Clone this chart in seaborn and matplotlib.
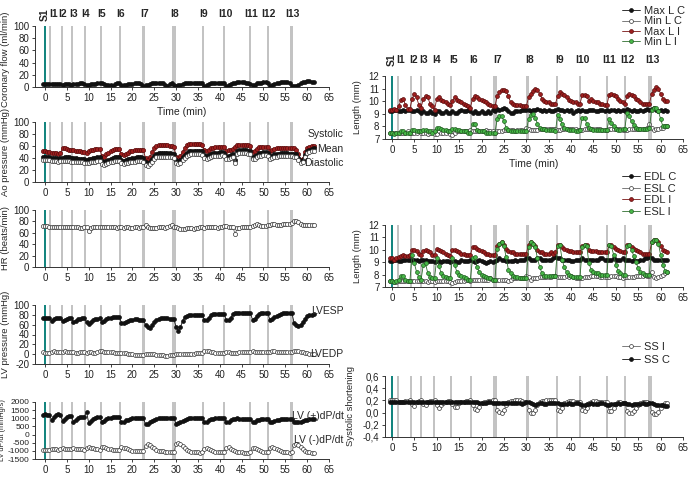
import numpy as np
import matplotlib
matplotlib.use("Agg")
import matplotlib.pyplot as plt
import seaborn as sns
from matplotlib.ticker import FuncFormatter

sns.set_theme(style="ticks")
plt.rcParams['font.family'] = ['Liberation Sans', 'DejaVu Sans']
plt.rcParams['axes.unicode_minus'] = False

# ---------------- data ----------------
time_min = np.arange(-0.5, 61.75, 0.5)   # sample times (min), 125 samples

event_labels = ["I1", "I2", "I3", "I4", "I5", "I6", "I7", "I8", "I9", "I10", "I11", "I12", "I13"]
events_left = [1.15, 3.8, 6.25, 9.15, 12.7, 17.2, 22.5, 29.5, 36.1, 41.0, 47.0, 51.0, 56.4]
events_right = [1.4, 4.2, 6.5, 9.4, 13.1, 17.6, 23.0, 30.3, 36.9, 42.0, 48.0, 52.1, 57.6]
event_widths = [0.45, 0.45, 0.45, 0.45, 0.45, 0.45, 0.8, 0.8, 0.45, 0.45, 0.45, 0.45, 0.8]

coronary_flow = [
    5, 5, 5, 5, 5, 5, 5, 5, 5, 4, 5,
    5, 5, 4, 5, 5, 5, 6, 6, 5, 4,
    4, 5, 5, 5, 6, 6, 6, 5, 4, 4,
    4, 1, 5, 6, 6, 3, 4, 4, 5, 5,
    5, 6, 6, 6, 5, 2, 3, 4, 5, 6,
    6, 7, 7, 7, 6, 4, 1, 5, 6, 3,
    2, 3, 4, 5, 6, 6, 7, 7, 7, 7,
    7, 7, 6, 2, 3, 5, 6, 7, 7, 7,
    7, 7, 6, 2, 3, 5, 6, 7, 8, 8,
    8, 8, 7, 6, 5, 3, 4, 6, 7, 7,
    8, 8, 7, 2, 3, 5, 6, 7, 8, 8,
    9, 8, 7, 2, 1, 2, 4, 6, 8, 9,
    10, 10, 9, 8]

ao_systolic = [
    51, 51, 50, 50, 49, 48, 48, 47, 48, 56, 56,
    55, 54, 53, 53, 52, 51, 51, 50, 50, 49,
    52, 53, 54, 55, 55, 55, 44, 42, 46, 49,
    52, 54, 55, 55, 55, 46, 45, 47, 49, 51,
    52, 53, 54, 54, 54, 53, 40, 37, 42, 50,
    56, 60, 61, 61, 61, 61, 61, 60, 60, 58,
    42, 40, 44, 50, 56, 61, 63, 64, 64, 64,
    63, 63, 62, 53, 52, 54, 56, 57, 58, 59,
    59, 59, 58, 52, 53, 54, 55, 58, 62, 62,
    62, 62, 62, 61, 60, 50, 52, 55, 58, 59,
    59, 59, 58, 52, 53, 55, 56, 57, 57, 57,
    57, 57, 56, 56, 56, 54, 46, 37, 39, 50,
    57, 59, 60, 60]

ao_mean = [
    42, 42, 41, 41, 40, 40, 40, 39, 40, 40, 41,
    41, 41, 40, 40, 40, 39, 39, 39, 38, 37,
    38, 39, 40, 40, 41, 41, 35, 33, 35, 37,
    39, 40, 41, 41, 41, 36, 35, 36, 38, 39,
    40, 40, 41, 41, 41, 40, 33, 31, 34, 39,
    44, 47, 48, 48, 48, 48, 48, 48, 47, 46,
    36, 34, 37, 41, 45, 49, 51, 52, 52, 52,
    52, 52, 51, 45, 44, 45, 47, 48, 49, 49,
    50, 50, 49, 44, 44, 45, 46, 37, 52, 53,
    53, 53, 53, 52, 51, 42, 43, 45, 48, 49,
    50, 50, 49, 44, 44, 46, 47, 47, 48, 48,
    48, 48, 47, 47, 47, 46, 40, 35, 37, 45,
    52, 54, 55, 56]

ao_diastolic = [
    37, 37, 36, 36, 35, 35, 35, 34, 35, 35, 35,
    35, 35, 34, 34, 34, 33, 33, 33, 32, 31,
    32, 33, 34, 34, 35, 35, 30, 28, 30, 32,
    33, 34, 35, 35, 35, 31, 30, 31, 32, 33,
    34, 34, 35, 35, 35, 34, 29, 27, 30, 34,
    38, 41, 42, 42, 42, 42, 42, 42, 41, 40,
    32, 30, 32, 36, 40, 43, 45, 46, 46, 46,
    46, 46, 45, 40, 39, 40, 42, 43, 44, 44,
    44, 45, 44, 39, 39, 40, 41, 32, 47, 48,
    48, 48, 48, 47, 46, 38, 39, 41, 43, 44,
    45, 45, 44, 39, 40, 41, 42, 43, 43, 43,
    43, 43, 43, 43, 42, 41, 36, 32, 34, 41,
    48, 50, 51, 52]

heart_rate = [
    72, 72, 72, 71, 70, 71, 70, 71, 70, 70, 71,
    70, 71, 70, 70, 71, 70, 69, 68, 70, 71,
    63, 69, 70, 70, 71, 71, 70, 71, 70, 70,
    71, 70, 70, 69, 70, 70, 69, 70, 70, 69,
    69, 70, 70, 69, 70, 71, 73, 71, 69, 68,
    69, 69, 70, 70, 70, 69, 71, 72, 73, 71,
    70, 69, 67, 66, 67, 68, 68, 68, 67, 68,
    69, 70, 71, 69, 70, 70, 71, 71, 70, 69,
    70, 71, 72, 72, 71, 71, 70, 58, 68, 69,
    70, 70, 70, 71, 71, 72, 74, 75, 73, 72,
    72, 72, 73, 74, 76, 75, 74, 74, 74, 75,
    75, 75, 76, 77, 80, 81, 79, 76, 74, 73,
    74, 74, 74, 74]

lvesp = [
    73, 74, 73, 73, 68, 71, 73, 73, 74, 67, 70,
    72, 73, 73, 66, 68, 71, 72, 73, 74, 65,
    62, 66, 69, 71, 72, 73, 66, 68, 71, 73,
    74, 75, 75, 75, 75, 64, 63, 65, 67, 69,
    70, 71, 71, 70, 70, 69, 60, 55, 54, 59,
    65, 70, 72, 73, 73, 73, 73, 72, 72, 71,
    55, 48, 55, 68, 76, 78, 79, 80, 80, 80,
    80, 80, 80, 69, 70, 74, 80, 81, 82, 82,
    82, 82, 82, 69, 70, 73, 82, 83, 83, 83,
    83, 83, 83, 83, 83, 70, 72, 77, 82, 84,
    84, 83, 83, 69, 71, 75, 78, 80, 82, 83,
    83, 84, 84, 84, 64, 60, 58, 60, 65, 72,
    78, 80, 80, 81]

lvedp = [
    4, 3, 3, 2, 5, 6, 5, 4, 5, 5, 6,
    5, 5, 4, 4, 3, 3, 4, 4, 4, 3,
    4, 4, 3, 3, 5, 6, 6, 5, 5, 4,
    4, 4, 3, 3, 2, 2, 3, 2, 1, 1,
    0, -1, -1, -1, -2, -1, 0, 0, 0, 0,
    0, -1, -1, -1, -2, -3, -3, -2, -1, -2,
    0, 0, 0, 1, 1, 0, 0, 1, 1, 2,
    3, 3, 3, 7, 7, 6, 5, 4, 3, 3,
    3, 3, 3, 5, 4, 3, 3, 3, 3, 4,
    4, 4, 4, 5, 5, 6, 5, 5, 4, 4,
    4, 4, 4, 5, 6, 6, 5, 5, 4, 4,
    4, 4, 4, 5, 6, 7, 6, 5, 4, 3,
    2, 1, 0, 0]

dpdt_plus = [
    1200, 1250, 1200, 1200, 900, 1050, 1200, 1250, 1200, 850, 950,
    1100, 1150, 1150, 800, 900, 1000, 1050, 1100, 1100, 1400,
    700, 850, 950, 1000, 1050, 1050, 800, 850, 950, 1000,
    1020, 1050, 1050, 1050, 1060, 750, 800, 870, 920, 970,
    1000, 1000, 1000, 1000, 1000, 1000, 620, 650, 750, 850,
    920, 970, 1000, 1000, 1000, 1000, 1000, 1000, 1000, 1000,
    650, 680, 750, 850, 920, 970, 1000, 1000, 1000, 1000,
    1000, 1000, 1000, 760, 800, 880, 940, 980, 1000, 1000,
    1000, 1000, 1000, 750, 800, 870, 930, 950, 1000, 980,
    960, 960, 960, 960, 960, 750, 800, 870, 920, 950,
    950, 950, 940, 750, 780, 850, 900, 920, 950, 950,
    940, 950, 950, 950, 760, 750, 760, 800, 850, 880,
    900, 930, 950, 960]

dpdt_minus = [
    -950, -960, -950, -950, -880, -900, -900, -920, -900, -850, -860,
    -870, -880, -880, -830, -860, -880, -900, -900, -920, -820,
    -750, -800, -850, -880, -900, -920, -750, -780, -830, -870,
    -900, -920, -950, -960, -970, -780, -800, -850, -900, -950,
    -980, -1000, -1000, -1000, -1000, -990, -700, -600, -650, -750,
    -850, -930, -980, -1010, -1030, -1050, -1060, -1070, -1070, -1060,
    -600, -520, -580, -720, -850, -950, -1020, -1060, -1080, -1100,
    -1100, -1110, -1100, -880, -800, -860, -930, -1000, -1040, -1070,
    -1080, -1090, -1080, -850, -780, -860, -940, -1000, -1050, -1080,
    -1100, -1110, -1110, -1110, -1100, -820, -800, -880, -960, -1030,
    -1060, -1080, -1080, -800, -780, -840, -900, -960, -1010, -1050,
    -1080, -1100, -1110, -1100, -620, -560, -650, -780, -900, -1000,
    -1060, -1100, -1120, -1140]

max_l_c = [
    9.2, 9.2, 9.3, 9.3, 9.2, 9.2, 9.3, 9.2, 9.3, 9.3, 9.2,
    9.2, 9.3, 9.2, 9.1, 9.2, 9.1, 9.1, 9.2, 9.1, 9.0,
    9.2, 9.2, 9.1, 9.1, 9.2, 9.1, 9.1, 9.2, 9.1, 9.1,
    9.2, 9.3, 9.2, 9.2, 9.3, 9.2, 9.1, 9.2, 9.1, 9.1,
    9.2, 9.1, 9.1, 9.2, 9.1, 9.3, 9.2, 9.4, 9.3, 9.4,
    9.5, 9.4, 9.2, 9.1, 9.1, 9.2, 9.2, 9.2, 9.3, 9.3,
    9.3, 9.3, 9.2, 9.3, 9.3, 9.4, 9.3, 9.2, 9.3, 9.2,
    9.3, 9.2, 9.2, 9.3, 9.4, 9.3, 9.3, 9.2, 9.3, 9.2,
    9.3, 9.1, 9.2, 9.3, 9.2, 9.3, 9.2, 9.2, 9.3, 9.3,
    9.3, 9.2, 9.2, 9.3, 9.3, 9.2, 9.3, 9.2, 9.3, 9.3,
    9.2, 9.3, 9.2, 9.3, 9.2, 9.4, 9.3, 9.2, 9.3, 9.2,
    9.2, 9.3, 9.2, 9.3, 9.4, 9.3, 9.4, 9.5, 9.3, 9.2,
    9.3, 9.2, 9.3, 9.2]

min_l_c = [
    7.5, 7.5, 7.5, 7.5, 7.5, 7.5, 7.5, 7.5, 7.6, 7.5, 7.5,
    7.5, 7.5, 7.6, 7.5, 7.5, 7.5, 7.4, 7.5, 7.6, 7.4,
    7.4, 7.6, 7.5, 7.5, 7.5, 7.6, 7.4, 7.3, 7.5, 7.6,
    7.6, 7.6, 7.6, 7.6, 7.6, 7.7, 7.6, 7.6, 7.6, 7.6,
    7.6, 7.6, 7.7, 7.6, 7.6, 7.6, 7.5, 7.6, 7.6, 7.6,
    7.7, 7.7, 7.7, 7.7, 7.7, 7.6, 7.7, 7.7, 7.7, 7.6,
    7.9, 7.8, 7.7, 7.7, 7.7, 7.7, 7.8, 7.8, 7.8, 7.8,
    7.8, 7.8, 7.8, 7.8, 7.7, 7.7, 7.8, 7.8, 7.8, 7.8,
    7.8, 7.8, 7.8, 7.7, 7.7, 7.7, 7.8, 7.8, 7.8, 7.8,
    7.8, 7.8, 7.8, 7.8, 7.7, 7.7, 7.7, 7.8, 7.8, 7.8,
    7.8, 7.8, 7.8, 7.7, 7.7, 7.7, 7.8, 7.8, 7.8, 7.8,
    7.8, 7.8, 7.8, 7.8, 7.9, 8.2, 7.9, 7.7, 7.8, 7.8,
    7.9, 7.9, 8.0, 8.0]

max_l_i = [
    9.3, 9.3, 9.4, 9.3, 9.6, 10.1, 10.2, 9.7, 9.4, 9.4, 10.2,
    10.6, 10.3, 9.7, 9.5, 10.2, 10.4, 10.3, 9.8, 9.6, 9.3,
    10.2, 10.3, 10.1, 10.0, 9.9, 9.8, 9.7, 10.0, 10.3, 10.1,
    10.0, 9.9, 9.8, 9.7, 9.6, 9.5, 10.2, 10.4, 10.3, 10.2,
    10.1, 10.0, 9.9, 9.8, 9.7, 9.6, 9.6, 10.4, 10.7, 10.9,
    10.9, 10.8, 10.4, 9.9, 9.8, 9.7, 9.7, 9.7, 9.6, 9.6,
    9.6, 10.3, 10.6, 10.8, 11.0, 10.9, 10.6, 10.2, 10.0, 9.9,
    9.9, 9.8, 9.8, 9.8, 10.4, 10.7, 10.6, 10.5, 10.3, 10.1,
    10.0, 9.9, 9.9, 9.8, 9.8, 10.5, 10.5, 10.4, 10.0, 10.2,
    10.0, 9.9, 9.9, 9.8, 9.8, 9.7, 9.7, 10.5, 10.6, 10.5,
    10.4, 10.2, 10.0, 9.9, 9.8, 10.4, 10.6, 10.5, 10.4, 10.2,
    10.1, 9.9, 9.8, 9.8, 9.8, 9.8, 10.6, 10.9, 11.1, 11.0,
    10.6, 10.2, 10.0, 10.0]

min_l_i = [
    7.5, 7.5, 7.4, 7.5, 7.5, 7.6, 7.6, 7.5, 7.5, 7.5, 7.7,
    7.7, 7.6, 7.6, 7.6, 7.7, 7.7, 7.6, 7.6, 7.5, 7.6,
    7.9, 7.9, 7.8, 7.7, 7.7, 7.6, 7.6, 7.8, 7.8, 7.7,
    7.7, 7.6, 7.6, 7.6, 7.5, 7.5, 8.2, 8.2, 7.7, 7.6,
    7.6, 7.6, 7.5, 7.5, 7.5, 7.5, 7.5, 8.6, 8.8, 8.8,
    8.4, 7.9, 7.7, 7.6, 7.6, 7.6, 7.6, 7.6, 7.6, 7.6,
    7.6, 8.6, 8.9, 9.0, 8.7, 8.2, 7.9, 7.8, 7.8, 7.7,
    7.7, 7.7, 7.7, 7.6, 8.9, 8.6, 8.2, 7.9, 7.8, 7.7,
    7.7, 7.7, 7.6, 7.6, 7.7, 8.7, 8.7, 8.2, 7.9, 7.8,
    7.7, 7.7, 7.7, 7.7, 7.7, 7.7, 7.7, 8.6, 8.3, 8.0,
    7.8, 7.7, 7.7, 7.8, 7.8, 9.1, 8.8, 8.4, 8.1, 7.9,
    7.8, 7.8, 7.8, 7.8, 7.8, 7.9, 9.3, 9.5, 9.5, 9.2,
    8.6, 8.0, 8.0, 8.0]

edl_c = [
    9.1, 9.1, 9.2, 9.2, 9.1, 9.1, 9.2, 9.2, 9.2, 9.2, 9.2,
    9.2, 9.2, 9.1, 9.2, 9.2, 9.2, 9.1, 9.1, 9.1, 9.0,
    9.1, 9.1, 9.0, 9.1, 9.1, 9.1, 9.0, 9.1, 9.1, 9.0,
    9.0, 9.2, 9.1, 9.1, 9.1, 9.2, 9.1, 9.0, 9.1, 9.2,
    9.1, 9.0, 8.9, 9.0, 9.1, 9.0, 9.1, 9.2, 9.3, 9.2,
    9.2, 9.1, 9.1, 9.1, 9.1, 9.2, 9.1, 9.2, 9.2, 9.2,
    9.3, 9.3, 9.2, 9.2, 9.2, 9.3, 9.3, 9.2, 9.2, 9.2,
    9.2, 9.2, 9.3, 9.4, 9.3, 9.3, 9.2, 9.2, 9.2, 9.2,
    9.1, 9.1, 9.2, 9.2, 9.2, 9.3, 9.2, 9.2, 9.2, 9.2,
    9.2, 9.2, 9.2, 9.3, 9.3, 9.2, 9.2, 9.2, 9.2, 9.3,
    9.2, 9.2, 9.2, 9.3, 9.2, 9.2, 9.2, 9.1, 9.2, 9.1,
    9.1, 9.2, 9.2, 9.3, 9.3, 9.4, 9.3, 9.2, 9.2, 9.2,
    9.2, 9.2, 9.2, 9.2]

esl_c = [
    7.5, 7.5, 7.4, 7.4, 7.5, 7.5, 7.5, 7.5, 7.5, 7.5, 7.5,
    7.5, 7.5, 7.5, 7.5, 7.5, 7.5, 7.4, 7.5, 7.5, 7.4,
    7.5, 7.5, 7.5, 7.5, 7.5, 7.5, 7.4, 7.3, 7.4, 7.5,
    7.5, 7.5, 7.5, 7.6, 7.6, 7.5, 7.6, 7.6, 7.6, 7.6,
    7.6, 7.6, 7.6, 7.6, 7.7, 7.6, 7.6, 7.6, 7.6, 7.6,
    7.6, 7.6, 7.5, 7.6, 7.7, 7.7, 7.7, 7.7, 7.7, 7.7,
    7.9, 7.8, 7.6, 7.7, 7.7, 7.7, 7.8, 7.8, 7.8, 7.8,
    7.8, 7.8, 7.9, 7.9, 7.8, 7.8, 7.8, 7.8, 7.9, 7.8,
    7.9, 7.8, 7.7, 7.7, 7.7, 7.7, 7.8, 7.8, 7.8, 7.9,
    7.9, 7.9, 7.9, 7.8, 7.8, 7.8, 7.8, 7.8, 7.9, 7.9,
    7.9, 7.8, 7.8, 7.7, 7.8, 7.8, 7.8, 7.8, 7.8, 7.9,
    7.9, 7.9, 7.9, 8.0, 7.9, 7.9, 8.2, 7.8, 7.7, 7.8,
    7.9, 8.0, 8.1, 8.2]

edl_i = [
    9.3, 9.3, 9.2, 9.3, 9.4, 9.5, 9.6, 9.5, 9.5, 9.6, 10.0,
    10.0, 9.9, 9.7, 9.6, 9.9, 10.0, 9.9, 9.8, 9.6, 9.6,
    10.05, 10.0, 9.9, 9.8, 9.7, 9.6, 9.5, 10.0, 10.0, 9.9,
    9.8, 9.7, 9.7, 9.6, 9.6, 9.6, 10.2, 10.2, 10.1, 10.0,
    9.9, 9.8, 9.7, 9.7, 9.6, 9.6, 9.6, 10.3, 10.5, 10.6,
    10.4, 10.1, 9.9, 9.8, 9.8, 9.7, 9.7, 9.7, 9.7, 9.7,
    9.7, 10.4, 10.6, 10.5, 10.3, 10.0, 9.8, 9.8, 9.7, 9.7,
    9.7, 9.8, 9.7, 9.8, 10.4, 10.4, 10.2, 10.1, 10.0, 9.9,
    9.9, 9.8, 9.8, 9.8, 9.8, 10.3, 10.4, 10.4, 10.0, 9.9,
    9.9, 9.9, 9.8, 9.8, 9.8, 9.8, 9.8, 10.4, 10.4, 10.2,
    10.1, 10.0, 9.9, 9.8, 9.8, 10.4, 10.4, 10.2, 10.1, 10.0,
    9.9, 9.8, 9.7, 9.7, 9.7, 9.7, 10.6, 10.8, 10.8, 10.6,
    10.3, 10.0, 9.9, 9.8]

esl_i = [
    7.5, 7.5, 7.4, 7.5, 7.6, 7.9, 7.9, 7.6, 7.5, 7.5, 9.6,
    8.9, 8.2, 7.8, 7.6, 8.8, 8.9, 8.1, 7.8, 7.7, 7.7,
    9.3, 8.7, 8.1, 7.9, 7.8, 7.7, 7.7, 9.3, 8.8, 8.2,
    8.0, 7.9, 7.8, 7.7, 7.6, 7.6, 9.3, 9.4, 8.6, 8.2,
    8.0, 7.9, 7.8, 7.7, 7.7, 7.6, 7.6, 10.1, 10.5, 10.6,
    10.3, 9.4, 8.4, 8.1, 7.9, 7.8, 7.8, 7.7, 7.7, 7.7,
    7.7, 10.2, 10.6, 10.5, 10.2, 9.3, 8.6, 8.1, 7.9, 7.9,
    7.9, 7.9, 7.9, 7.9, 10.3, 10.4, 9.2, 8.6, 8.2, 8.0,
    7.9, 7.8, 7.8, 7.8, 7.8, 10.2, 10.4, 10.3, 8.9, 8.4,
    8.2, 8.1, 8.1, 8.0, 8.0, 8.0, 8.0, 10.4, 10.3, 9.6,
    8.8, 8.3, 8.1, 8.0, 8.0, 10.3, 10.4, 10.0, 9.5, 9.0,
    8.5, 8.2, 8.1, 8.0, 8.0, 8.0, 10.6, 10.8, 10.8, 10.5,
    9.6, 8.8, 8.3, 8.2]

ss_i = [
    0.20, 0.20, 0.20, 0.20, 0.18, 0.17, 0.18, 0.19, 0.19, 0.20, 0.14,
    0.11, 0.17, 0.19, 0.20, 0.14, 0.12, 0.17, 0.19, 0.19, 0.20,
    0.12, 0.08, 0.12, 0.16, 0.18, 0.19, 0.19, 0.14, 0.09, 0.10,
    0.15, 0.17, 0.18, 0.19, 0.19, 0.20, 0.12, 0.06, 0.05, 0.10,
    0.15, 0.17, 0.18, 0.19, 0.19, 0.20, 0.20, 0.05, 0.01, 0.00,
    0.04, 0.12, 0.17, 0.19, 0.19, 0.20, 0.20, 0.20, 0.19, 0.18,
    0.18, 0.05, 0.00, 0.00, 0.04, 0.12, 0.17, 0.19, 0.19, 0.20,
    0.20, 0.21, 0.20, 0.20, 0.05, 0.03, 0.08, 0.15, 0.18, 0.19,
    0.19, 0.19, 0.18, 0.18, 0.18, 0.05, 0.03, 0.08, 0.15, 0.18,
    0.19, 0.19, 0.18, 0.18, 0.17, 0.17, 0.17, 0.03, 0.02, 0.08,
    0.14, 0.17, 0.17, 0.16, 0.16, 0.02, 0.00, 0.00, 0.03, 0.08,
    0.13, 0.16, 0.17, 0.17, 0.17, 0.16, 0.01, -0.02, -0.02, 0.01,
    0.07, 0.13, 0.16, 0.16]

ss_c = [
    0.17, 0.17, 0.17, 0.18, 0.18, 0.17, 0.18, 0.18, 0.17, 0.18, 0.18,
    0.18, 0.17, 0.18, 0.17, 0.17, 0.18, 0.18, 0.17, 0.18, 0.18,
    0.18, 0.17, 0.17, 0.17, 0.18, 0.17, 0.17, 0.17, 0.18, 0.17,
    0.17, 0.17, 0.18, 0.18, 0.17, 0.17, 0.17, 0.18, 0.17, 0.16,
    0.16, 0.16, 0.16, 0.17, 0.17, 0.16, 0.15, 0.15, 0.15, 0.15,
    0.15, 0.16, 0.15, 0.15, 0.15, 0.15, 0.15, 0.15, 0.14, 0.16,
    0.18, 0.17, 0.16, 0.14, 0.13, 0.14, 0.15, 0.15, 0.14, 0.14,
    0.15, 0.15, 0.16, 0.16, 0.15, 0.14, 0.14, 0.14, 0.14, 0.15,
    0.14, 0.14, 0.15, 0.15, 0.14, 0.13, 0.13, 0.14, 0.14, 0.15,
    0.14, 0.14, 0.14, 0.15, 0.15, 0.14, 0.13, 0.13, 0.14, 0.14,
    0.14, 0.15, 0.14, 0.15, 0.15, 0.14, 0.14, 0.13, 0.14, 0.14,
    0.14, 0.14, 0.15, 0.14, 0.14, 0.15, 0.16, 0.14, 0.13, 0.13,
    0.12, 0.12, 0.11, 0.11]

# ---------------- styling ----------------
W, H = 694, 479
TEAL = "#14857f"
GRAY_BAR = "#c3c3c3"
STYLES = {
    "black": dict(color="#111111", markerfacecolor="#111111", markeredgecolor="#111111"),
    "white": dict(color="#666666", markerfacecolor="white", markeredgecolor="#333333"),
    "red": dict(color="#7a1414", markerfacecolor="#9e1f1f", markeredgecolor="#5a0c0c"),
    "green": dict(color="#2f6f2f", markerfacecolor="#48b848", markeredgecolor="#1f5a1f"),
}
TICK_FS = 7
YLAB_FS = 6.8

fig = plt.figure(figsize=(W / 100, H / 100), dpi=100)


def add_axes(x0, x1, ytop, ybot):
    return fig.add_axes([x0 / W, 1 - ybot / H, (x1 - x0) / W, (ybot - ytop) / H])


def series(ax, values, kind, ms=2.8):
    assert len(values) == len(time_min)
    sns.lineplot(x=time_min, y=np.asarray(values, dtype=float), ax=ax, marker="o",
                 markersize=ms, markeredgewidth=0.5, linewidth=0.6, errorbar=None,
                 legend=False, sort=False, **STYLES[kind])
    return ax.lines[-1]


def frame(ax, xlim, ylim, yticks, events, fmt=None, ytick_fs=TICK_FS):
    ax.set_xlim(*xlim)
    ax.set_ylim(*ylim)
    ax.set_xticks(range(0, 66, 5))
    ax.set_yticks(yticks)
    for e, w in zip(events, event_widths):
        ax.axvspan(e - w / 2, e + w / 2, color=GRAY_BAR, lw=0, zorder=0)
    ax.axvspan(-0.25, 0.25, color=TEAL, lw=0, zorder=1)
    for s in ["top", "right"]:
        ax.spines[s].set_visible(False)
    for s in ["left", "bottom"]:
        ax.spines[s].set_linewidth(0.7)
        ax.spines[s].set_color("#333333")
    ax.tick_params(axis="x", labelsize=TICK_FS, length=2.5, width=0.6, pad=2, colors="#222222")
    ax.tick_params(axis="y", labelsize=ytick_fs, length=2.5, width=0.6, pad=1.5, colors="#222222")
    ax.set_xlabel("")
    ax.set_ylabel("")
    if fmt is not None:
        ax.yaxis.set_major_formatter(fmt)
    ax.patch.set_alpha(0)


def event_text(ax, events, yfrac, offset, first_left=False):
    trans = ax.get_xaxis_transform()
    ax.text(0, yfrac, "S1", rotation=90, ha="center", va="center", fontsize=7.5,
            fontweight="bold", transform=trans, clip_on=False)
    for i, (lab, e) in enumerate(zip(event_labels, events)):
        if i == 0 and first_left:
            ax.text(e - 0.1, yfrac, lab, ha="left", va="center", fontsize=7.5,
                    fontweight="bold", transform=trans, clip_on=False)
        else:
            ax.text(e + offset, yfrac, lab, ha="center", va="center", fontsize=7.5,
                    fontweight="bold", transform=trans, clip_on=False)


LX0, LX1 = 35, 329
RX0, RX1 = 385, 683
LXLIM = (-2.3, 65)
RXLIM = (-1.56, 65)
YLAB_L = -0.084

# Left column
ax1 = add_axes(LX0, LX1, 26, 87)
series(ax1, coronary_flow, "black")
frame(ax1, LXLIM, (0, 100), range(0, 101, 20), events_left)
ax1.set_xlabel("Time (min)", fontsize=7.5, labelpad=3)
ax1.set_ylabel("Coronary flow (ml/min)", fontsize=YLAB_FS)
ax1.yaxis.set_label_coords(YLAB_L, 0.45)
event_text(ax1, events_left, 1.19, 0.2, first_left=True)

ax2 = add_axes(LX0, LX1, 122, 182)
series(ax2, ao_systolic, "red", ms=3)
series(ax2, ao_mean, "black", ms=3)
series(ax2, ao_diastolic, "white", ms=3)
frame(ax2, LXLIM, (0, 100), range(0, 101, 20), events_left)
ax2.set_ylabel("Ao pressure (mmHg)", fontsize=YLAB_FS)
ax2.yaxis.set_label_coords(YLAB_L, 0.5)
for txt, yy in [("Systolic", 0.80), ("Mean", 0.55), ("Diastolic", 0.317)]:
    ax2.text(1.05, yy, txt, transform=ax2.transAxes, ha="right", va="center", fontsize=7.5)

ax3 = add_axes(LX0, LX1, 210, 267)
series(ax3, heart_rate, "white", ms=3)
frame(ax3, LXLIM, (0, 100), range(0, 101, 20), events_left)
ax3.set_ylabel("HR (beats/min)", fontsize=YLAB_FS)
ax3.yaxis.set_label_coords(YLAB_L, 0.5)

ax4 = add_axes(LX0, LX1, 305, 364)
series(ax4, lvesp, "black")
series(ax4, lvedp, "white")
frame(ax4, LXLIM, (-20, 100), range(-20, 101, 20), events_left)
ax4.set_ylabel("LV pressure (mmHg)", fontsize=YLAB_FS)
ax4.yaxis.set_label_coords(YLAB_L, 0.5)
ax4.text(1.05, 0.9, "LVESP", transform=ax4.transAxes, ha="right", va="center", fontsize=7.5)
ax4.text(1.05, 0.17, "LVEDP", transform=ax4.transAxes, ha="right", va="center", fontsize=7.5)

ax5 = add_axes(LX0, LX1, 402, 459)
series(ax5, dpdt_plus, "black")
series(ax5, dpdt_minus, "white")
frame(ax5, LXLIM, (-1500, 2000), range(-1500, 2001, 500), events_left, ytick_fs=6.0)
ax5.set_ylabel("LV dP/dt (mmHg/s)", fontsize=5.3)
ax5.yaxis.set_label_coords(-0.097, 0.5)
ax5.text(1.05, 0.76, "LV (+)dP/dt", transform=ax5.transAxes, ha="right", va="center", fontsize=7.5)
ax5.text(1.05, 0.333, "LV (-)dP/dt", transform=ax5.transAxes, ha="right", va="center", fontsize=7.5)

# Right column
comma_fmt = FuncFormatter(lambda v, p: f"{v:.1f}".replace(".", ",").replace("-0,0", "0,0"))


def legend_at(ax, handles, labels, x_px, y_px, spacing):
    ax.legend(handles, labels, loc="upper left", bbox_to_anchor=(x_px / W, 1 - y_px / H),
              bbox_transform=fig.transFigure, frameon=False, fontsize=8, handlelength=1.6,
              handletextpad=0.4, labelspacing=spacing, borderaxespad=0, borderpad=0)


axr1 = add_axes(RX0, RX1, 76, 139)
h1 = series(axr1, max_l_c, "black")
h2 = series(axr1, min_l_c, "white")
h3 = series(axr1, max_l_i, "red")
h4 = series(axr1, min_l_i, "green")
frame(axr1, RXLIM, (7, 12), range(7, 13), events_right)
axr1.set_xlabel("Time (min)", fontsize=7.5, labelpad=3)
axr1.set_ylabel("Length (mm)", fontsize=YLAB_FS)
axr1.yaxis.set_label_coords(-0.077, 0.5)
event_text(axr1, events_right, 1.26, 0.55)
legend_at(axr1, [h1, h2, h3, h4], ["Max L C", "Min L C", "Max L I", "Min L I"], 622, 6, 0.04)

axr2 = add_axes(RX0, RX1, 225, 287)
g1 = series(axr2, edl_c, "black")
g2 = series(axr2, esl_c, "white")
g3 = series(axr2, edl_i, "red")
g4 = series(axr2, esl_i, "green")
frame(axr2, RXLIM, (7, 12), range(7, 13), events_right)
axr2.set_ylabel("Length (mm)", fontsize=YLAB_FS)
axr2.yaxis.set_label_coords(-0.077, 0.5)
legend_at(axr2, [g1, g2, g3, g4], ["EDL C", "ESL C", "EDL I", "ESL I"], 622, 172, 0.15)

axr3 = add_axes(RX0, RX1, 376, 437)
k1 = series(axr3, ss_i, "white")
k2 = series(axr3, ss_c, "black")
frame(axr3, RXLIM, (-0.4, 0.6), [-0.4, -0.2, 0.0, 0.2, 0.4, 0.6], events_right, fmt=comma_fmt)
axr3.set_ylabel("Systolic shortening", fontsize=YLAB_FS)
axr3.yaxis.set_label_coords(-0.10, 0.5)
legend_at(axr3, [k1, k2], ["SS I", "SS C"], 622, 342, 0.25)

fig.savefig("out.png", dpi=100)
